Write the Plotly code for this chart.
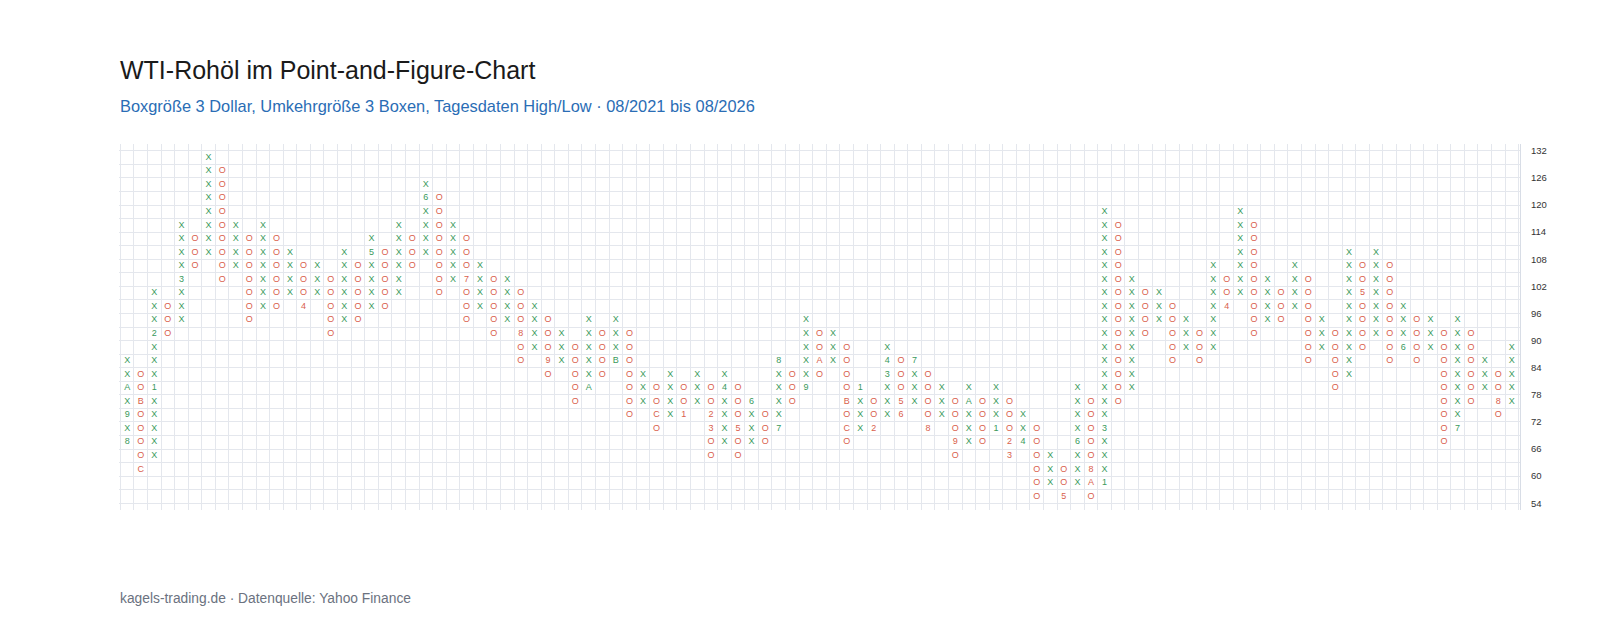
import plotly.graph_objects as go

# Point-and-Figure: box size 3 dollars, columns alternate starting with X
box_size = 3
first_column = "X"

# top and bottom box (lower edge of box, dollars) for each column
col_high = [84, 81, 99, 96, 114, 111, 129, 126, 114, 111, 114, 111, 108, 105, 105, 102,
            108, 105, 111, 108, 114, 111, 123, 120, 114, 111, 105, 102, 102, 99, 96, 93,
            90, 87, 93, 90, 93, 90, 81, 78, 81, 78, 81, 78, 81, 78, 75, 72,
            84, 81, 93, 90, 90, 87, 78, 75, 87, 84, 84, 81, 78, 75, 78, 75,
            78, 75, 72, 69, 63, 60, 78, 75, 117, 114, 102, 99, 99, 96, 93, 90,
            105, 102, 117, 114, 102, 99, 105, 102, 93, 90, 108, 105, 108, 105, 96, 93,
            93, 90, 93, 90, 84, 81, 87]
col_low = [66, 60, 63, 90, 93, 105, 108, 102, 105, 93, 96, 96, 99, 96, 99, 90,
           93, 93, 96, 96, 99, 105, 108, 99, 102, 93, 96, 90, 93, 84, 87, 81,
           84, 75, 78, 81, 84, 72, 75, 69, 72, 72, 75, 63, 66, 63, 66, 66,
           69, 75, 78, 81, 84, 66, 69, 69, 72, 72, 75, 69, 72, 63, 66, 66,
           69, 63, 66, 54, 57, 54, 57, 54, 57, 75, 78, 90, 93, 84, 87, 84,
           87, 96, 99, 90, 93, 93, 96, 84, 87, 78, 81, 87, 90, 84, 87, 84,
           87, 66, 69, 75, 78, 72, 75]

# month markers (1-9 = Jan-Sep, A/B/C = Oct-Dec) replacing the box symbol
mark_col = [0, 0, 0, 1, 1, 2, 2, 4, 13, 18, 22, 25, 29, 31, 34, 36,
            39, 41, 43, 43, 44, 45, 46, 48, 48, 50, 51, 53, 53, 54, 55, 56,
            56, 57, 57, 58, 59, 61, 62, 64, 65, 65, 66, 69, 70, 71, 71, 72,
            72, 81, 91, 94, 98, 101]
mark_price = [66, 72, 78, 75, 60, 78, 90, 102, 96, 108, 120, 102, 90, 84, 78, 84,
              72, 72, 72, 69, 78, 69, 75, 69, 84, 78, 84, 75, 69, 78, 69, 81,
              84, 75, 72, 84, 69, 66, 75, 69, 66, 63, 66, 54, 66, 60, 57, 57,
              69, 96, 99, 87, 69, 75]
mark_label = ["8", "9", "A", "B", "C", "1", "2", "3", "4", "5", "6", "7", "8", "9", "A", "B",
              "C", "1", "2", "3", "4", "5", "6", "7", "8", "9", "A", "B", "C", "1", "2", "3",
              "4", "5", "6", "7", "8", "9", "A", "1", "2", "3", "4", "5", "6", "8", "A", "1",
              "3", "4", "5", "6", "7", "8"]

y_ticks = list(range(54, 133, 6))

GREEN = "#3a9a5c"
RED = "#d9614d"
GRID = "#e4e7ed"
FONT = "Liberation Sans, Arial, sans-serif"

marks = {(c, p): m for c, p, m in zip(mark_col, mark_price, mark_label)}

pts = {"X": ([], [], []), "O": ([], [], [])}
for i, (hi, lo) in enumerate(zip(col_high, col_low)):
    kind = first_column if i % 2 == 0 else ("O" if first_column == "X" else "X")
    xs, ys, txt = pts[kind]
    for p in range(lo, hi + 1, box_size):
        xs.append(i)
        ys.append(p + box_size / 2)
        txt.append(marks.get((i, p), kind))

fig = go.Figure()
for kind, color in (("X", GREEN), ("O", RED)):
    xs, ys, txt = pts[kind]
    fig.add_trace(
        go.Scatter(
            x=xs,
            y=ys,
            mode="text",
            text=txt,
            textposition="middle center",
            textfont=dict(family=FONT, size=9, color=color),
            hoverinfo="skip",
            name=kind,
        )
    )

fig.update_xaxes(
    range=[-0.6, len(col_high) - 0.4],
    tick0=0.5,
    dtick=1,
    showticklabels=False,
    showgrid=True,
    gridcolor=GRID,
    gridwidth=1,
    zeroline=False,
    ticks="",
)

fig.update_yaxes(
    range=[52.5, 133.5],
    side="right",
    tickvals=y_ticks,
    ticktext=[str(v) for v in y_ticks],
    showgrid=True,
    gridcolor=GRID,
    minor=dict(dtick=box_size, tick0=0, showgrid=True, gridcolor=GRID),
    zeroline=False,
    ticks="",
    showline=True,
    linecolor="#d8dde6",
    tickfont=dict(family=FONT, size=9.5, color="#333333"),
    ticklabelstandoff=8,
)

fig.add_annotation(
    text="WTI-Rohöl im Point-and-Figure-Chart",
    xref="paper", yref="paper", x=0, y=1.203, xanchor="left", yanchor="middle",
    xshift=-1, showarrow=False,
    font=dict(family=FONT, size=25, color="#1a1a1a"),
)
fig.add_annotation(
    text="Boxgröße 3 Dollar, Umkehrgröße 3 Boxen, Tagesdaten High/Low · 08/2021 bis 08/2026",
    xref="paper", yref="paper", x=0, y=1.105, xanchor="left", yanchor="middle",
    xshift=-1, showarrow=False,
    font=dict(family=FONT, size=16.4, color="#2a6db5"),
)
fig.add_annotation(
    text="kagels-trading.de · Datenquelle: Yahoo Finance",
    xref="paper", yref="paper", x=0, y=-0.243, xanchor="left", yanchor="middle",
    xshift=-1, showarrow=False,
    font=dict(family=FONT, size=13.8, color="#6b7280"),
)

fig.update_layout(
    width=1600,
    height=631,
    margin=dict(l=111, r=88, t=136, b=129),
    plot_bgcolor="white",
    paper_bgcolor="white",
    showlegend=False,
)

fig.write_html("out.html")
